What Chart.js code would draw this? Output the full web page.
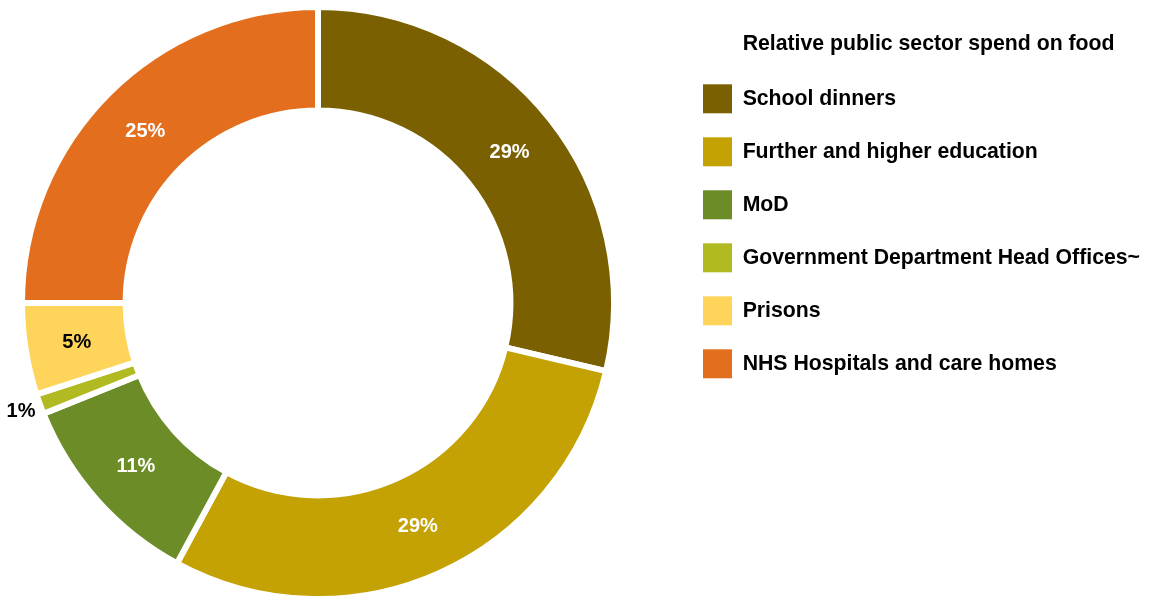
<!DOCTYPE html>
<html>
<head>
<meta charset="utf-8">
<script src="https://cdn.jsdelivr.net/npm/chart.js@4.4.1/dist/chart.umd.min.js"></script>
<style>
  html, body { margin: 0; padding: 0; background: #fff; overflow: hidden; width: 1149px; height: 596px; }
  #wrap { position: absolute; left: -43px; top: 0; width: 1193px; height: 602px; }
</style>
</head>
<body>
<div id="wrap"><canvas id="c" width="1193" height="602"></canvas></div>
<script>
const chartTitle = 'Relative public sector spend on food';
const categories = [
  'School dinners',
  'Further and higher education',
  'MoD',
  'Government Department Head Offices~',
  'Prisons',
  'NHS Hospitals and care homes'
];
const spendShare = [28.7, 29.2, 11.0, 1.1, 5.0, 25.0];

const sliceColors = ['#7A6000', '#C4A204', '#6B8C26', '#B2BA22', '#FED45A', '#E36F1E'];
const labelColors = ['#FFFFFF', '#FFFFFF', '#FFFFFF', '#000000', '#000000', '#FFFFFF'];

const FONT = "'Liberation Sans', Arial, Helvetica, sans-serif";
const LEGEND_FONT_SIZE = 21.25;
const TITLE_PAD_TOP = 29.5;

const sliceLabels = {
  id: 'sliceLabels',
  afterDatasetsDraw(chart) {
    const ctx = chart.ctx;
    const meta = chart.getDatasetMeta(0);
    const data = chart.data.datasets[0].data;
    const total = data.reduce((a, b) => a + b, 0);
    ctx.save();
    ctx.font = 'bold 20px ' + FONT;
    ctx.textAlign = 'center';
    ctx.textBaseline = 'middle';
    meta.data.forEach((arc, i) => {
      const p = arc.getProps(['x', 'y', 'startAngle', 'endAngle', 'innerRadius', 'outerRadius'], true);
      const mid = (p.startAngle + p.endAngle) / 2;
      const pct = data[i] / total * 100;
      const outside = pct < 2;
      const r = outside ? p.outerRadius + 20 : (p.innerRadius + p.outerRadius) / 2;
      ctx.fillStyle = labelColors[i];
      ctx.fillText(Math.round(pct) + '%', p.x + Math.cos(mid) * r, p.y + Math.sin(mid) * r + 1);
    });
    ctx.restore();
  }
};

const legendTitle = {
  id: 'legendTitle',
  afterDraw(chart) {
    const lg = chart.legend;
    if (!lg) return;
    const lab = lg.options.labels;
    const ctx = chart.ctx;
    ctx.save();
    ctx.font = 'bold ' + LEGEND_FONT_SIZE + 'px ' + FONT;
    ctx.fillStyle = '#000';
    ctx.textAlign = 'left';
    ctx.textBaseline = 'middle';
    const x = lg.left + lab.padding + lab.boxWidth + LEGEND_FONT_SIZE / 2;
    const y = lg.top + TITLE_PAD_TOP + LEGEND_FONT_SIZE / 2;
    ctx.fillText(chartTitle, x, y);
    ctx.restore();
  }
};

new Chart(document.getElementById('c'), {
  type: 'doughnut',
  data: {
    labels: categories,
    datasets: [{
      data: spendShare,
      backgroundColor: sliceColors,
      borderColor: '#FFFFFF',
      borderWidth: 6,
      hoverOffset: 0
    }]
  },
  options: {
    responsive: false,
    animation: false,
    cutout: '65%',
    layout: { padding: { top: 4, left: 0, right: 0, bottom: 0 } },
    plugins: {
      tooltip: { enabled: false },
      legend: {
        position: 'right',
        align: 'start',
        title: {
          display: true,
          text: chartTitle,
          color: 'rgba(0,0,0,0)',
          font: { family: FONT, size: LEGEND_FONT_SIZE, weight: 'bold' },
          padding: { top: TITLE_PAD_TOP, bottom: 1.3 }
        },
        labels: {
          boxWidth: 29,
          boxHeight: 29,
          padding: 24,
          color: '#000000',
          font: { family: FONT, size: LEGEND_FONT_SIZE, weight: 'bold' },
          generateLabels(chart) {
            const items = Chart.controllers.doughnut.overrides.plugins.legend.labels.generateLabels(chart);
            return items.map(it => Object.assign(it, { lineWidth: 0, strokeStyle: it.fillStyle }));
          }
        }
      }
    }
  },
  plugins: [sliceLabels, legendTitle]
});
</script>
</body>
</html>
